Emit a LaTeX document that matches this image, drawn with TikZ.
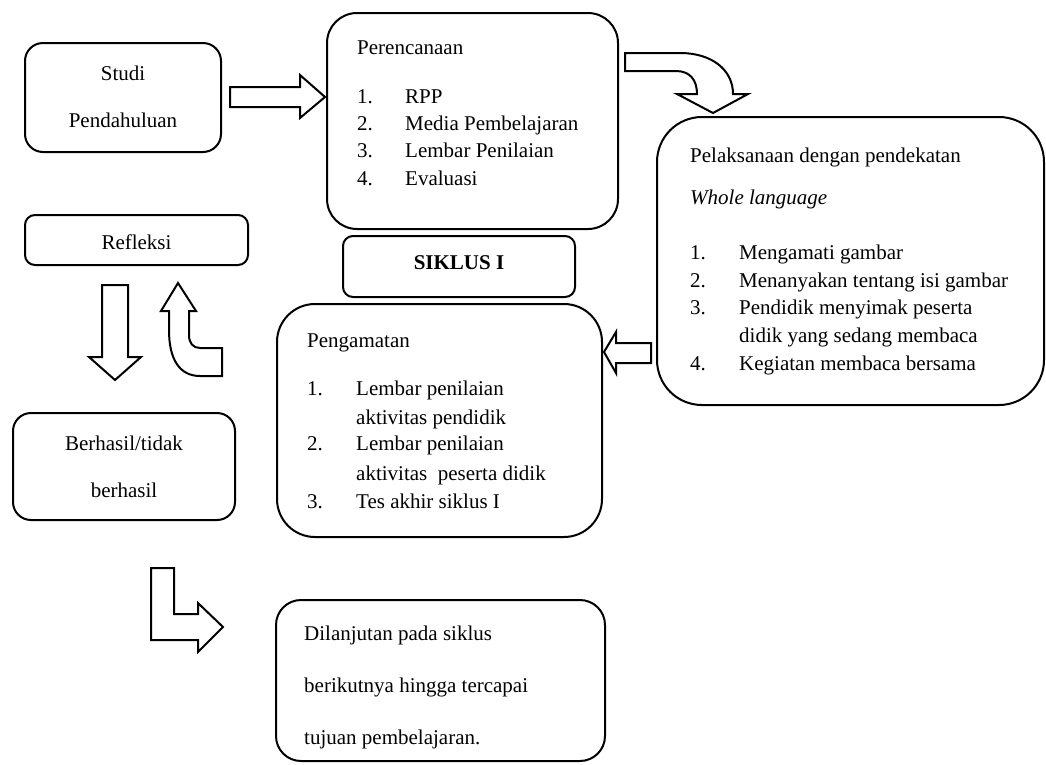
\documentclass[tikz,border=0pt]{standalone}
\usepackage{fontspec}
\setmainfont{Liberation Serif}
\usepackage{tikz}
\usetikzlibrary{arrows.meta,positioning,calc}

\begin{document}
\begin{tikzpicture}[x=1pt, y=-1pt, font=\fontsize{21}{27}\selectfont,
    box/.style={draw, line width=2pt, inner sep=0pt, outer sep=0pt},
    txt/.style={anchor=base west, inner sep=0pt},
    ctxt/.style={anchor=base, inner sep=0pt},
    blk/.style={draw, line width=2pt, fill=white, line join=miter}]
  \useasboundingbox (0,0) rectangle (1046,764);

  % boxes
  \node[box, rounded corners=18pt, minimum width=196pt, minimum height=109pt] (studi) at (123,97.5) {};
  \node[box, rounded corners=30pt, minimum width=291pt, minimum height=216pt] (renc) at (472.5,121) {};
  \node[box, rounded corners=45pt, minimum width=387pt, minimum height=288pt] (laks) at (850.5,261) {};
  \node[box, rounded corners=10pt, minimum width=232pt, minimum height=61pt] (siklus) at (459,266.5) {};
  \node[box, rounded corners=10pt, minimum width=223pt, minimum height=50pt] (refl) at (136.5,240) {};
  \node[box, rounded corners=38pt, minimum width=325pt, minimum height=233pt] (amat) at (439.5,420.5) {};
  \node[box, rounded corners=18pt, minimum width=222pt, minimum height=107pt] (hasil) at (124,466.5) {};
  \node[box, rounded corners=25pt, minimum width=329pt, minimum height=161pt] (lanjut) at (440.5,680.5) {};

  % texts
  \node[ctxt] (studi1) at (123,80) {Studi};
  \node[ctxt] (studi2) at (123,127) {Pendahuluan};
  \node[ctxt] (refl1) at (136.5,249) {Refleksi};
  \node[ctxt] (siklus1) at (459,269) {\bfseries SIKLUS I};
  \node[ctxt] (hasil1) at (124,450) {Berhasil/tidak};
  \node[ctxt] (hasil2) at (124,497) {berhasil};

  \node[txt] (renc0) at (357,54) {Perencanaan};
  \foreach \n/\t/\y in {1./RPP/103, 2./Media Pembelajaran/130, 3./Lembar Penilaian/157, 4./Evaluasi/185} {
    \node[txt] at (357,\y) {\n};
    \node[txt] at (405,\y) {\t};
  }

  \node[txt] (laks0) at (690,162) {Pelaksanaan dengan pendekatan};
  \node[txt] (laks1) at (690,204) {\itshape Whole language};
  \foreach \n/\t/\y in {1./Mengamati gambar/259, 2./Menanyakan tentang isi gambar/287, 3./Pendidik menyimak peserta/314, /didik yang sedang membaca/342, 4./Kegiatan membaca bersama/370} {
    \node[txt] at (690,\y) {\n};
    \node[txt] at (739,\y) {\t};
  }

  \node[txt] (amat0) at (307,347) {Pengamatan};
  \foreach \n/\t/\y in {1./Lembar penilaian/395, /aktivitas pendidik/424, 2./Lembar penilaian/450, /aktivitas\ \ peserta didik/480, 3./Tes akhir siklus I/508} {
    \node[txt] at (307,\y) {\n};
    \node[txt] at (356,\y) {\t};
  }

  \node[txt] (lanjut1) at (304,640) {Dilanjutan pada siklus};
  \node[txt] (lanjut2) at (304,692) {berikutnya hingga tercapai};
  \node[txt] (lanjut3) at (304,744) {tujuan pembelajaran.};

  % block arrows
  \draw[blk] (230,87) -- (300,87) -- (300,75) -- (325,97) -- (300,118) -- (300,107) -- (230,107) -- cycle;
  \draw[blk] (625,53) -- (680,53) .. controls (712,53) and (733,70) .. (733,94) -- (748,94) -- (713,113)
    -- (677,94) -- (697,94) .. controls (697,80) and (690,71) .. (676,71) -- (625,71) -- cycle;
  \draw[blk] (651,343) -- (616,343) -- (616,332) -- (604,352) -- (616,373) -- (616,363) -- (651,363) -- cycle;
  \draw[blk] (102,285) -- (128,285) -- (128,357) -- (141,357) -- (115,380) -- (89,357) -- (102,357) -- cycle;
  \draw[blk] (169,311) -- (169,330) .. controls (169,360) and (180,376) .. (200,376) -- (222,376) -- (222,348)
    -- (200,348) .. controls (193,348) and (189,343) .. (189,335) -- (189,311) -- (196,311) -- (178,283) -- (161,311) -- cycle;
  \draw[blk] (151,568) -- (174,568) -- (174,614) -- (198,614) -- (198,603) -- (223,627) -- (198,652) -- (198,640) -- (151,640) -- cycle;
\end{tikzpicture}
\end{document}
